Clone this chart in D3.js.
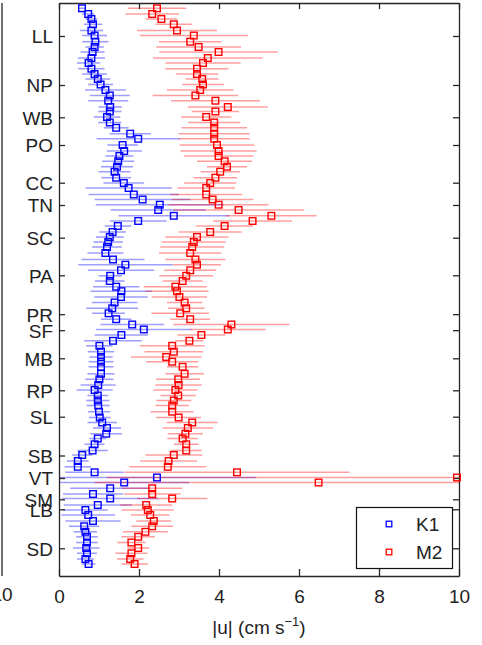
<!DOCTYPE html>
<html><head><meta charset="utf-8">
<script src="https://cdn.jsdelivr.net/npm/d3@7"></script>
<style>body{margin:0;background:#fff}svg{display:block}text{font-family:"Liberation Sans",Arial,sans-serif;fill:#222}</style>
</head><body><svg id="c" width="482" height="645"></svg>
<script>
// along-channel position of each sample (arbitrary units, top = 0)
const pos = [5.3,11,16,21.3,27.5,32.5,38.7,44,49,55,60,65.7,71,76,81.5,87,92.5,97.7,104,108.5,114,119.5,124.8,130.7,135.8,142,148,153,158.3,163.7,168.7,174.7,180,185,191.5,196.5,201.7,207,212.8,218,223,229,234,239,244,250,256.5,261.7,267.3,272.8,278,283.7,288.2,294,299.5,305.3,310.3,316.2,321.5,326.5,332,337.8,342.8,348.7,354,358.7,363.8,370.8,376.3,382,387,392.5,397.5,402.5,408.7,414.5,419.5,425,430.7,435.5,441.3,447.5,452,458,463.8,469.3,474.5,479.5,485.3,491,495.5,502,507,512,518,523.3,528.8,533.8,539.5,545,550.3,556,561];
const k1 = [0.575,0.73,0.81,0.85,0.81,0.89,0.91,0.89,0.84,0.81,0.74,0.81,0.89,0.97,1.04,1.16,1.27,1.23,1.28,1.27,1.2,1.27,1.43,1.78,1.98,1.59,1.63,1.51,1.48,1.45,1.39,1.43,1.62,1.74,1.87,2.09,2.52,2.48,2.87,1.98,1.47,1.34,1.27,1.23,1.2,1.16,1.35,1.66,1.55,1.28,1.27,1.43,1.56,1.55,1.39,1.33,1.24,1.43,1.83,2.12,1.56,1.35,1.01,1.05,1.05,1.05,1.05,1.05,1.01,0.98,0.89,0.97,0.97,0.98,1.0,1.02,1.08,1.2,1.18,0.97,0.89,0.84,0.58,0.47,0.47,0.89,2.45,1.63,1.28,0.85,1.28,0.97,0.66,0.73,0.85,0.63,0.66,0.7,0.7,0.68,0.7,0.66,0.74];
const k1Err = [0.1,0.15,0.15,0.23,0.29,0.31,0.33,0.23,0.3,0.34,0.29,0.33,0.31,0.31,0.31,0.51,0.5,0.5,0.29,0.29,0.33,0.29,0.31,0.52,1.04,0.38,0.44,0.35,0.4,0.4,0.4,0.37,0.51,1.08,1.13,1.2,1.6,1.19,1.38,0.71,0.33,0.33,0.35,0.37,0.37,0.45,0.79,1.18,0.83,0.29,0.37,0.58,0.77,0.67,0.57,0.65,0.41,0.38,0.79,1.19,0.67,0.72,0.33,0.33,0.29,0.31,0.31,0.34,0.35,0.44,0.45,0.26,0.29,0.29,0.28,0.27,0.37,0.35,0.4,0.21,0.25,0.38,0.25,0.27,0.33,0.73,2.48,1.62,1.0,0.75,1.2,0.85,0.56,0.67,0.69,0.38,0.29,0.27,0.27,0.33,0.25,0.21,0.17];
const m2 = [2.45,2.33,2.56,2.87,2.95,3.37,3.28,3.49,3.99,3.72,3.6,3.45,3.45,3.58,3.6,3.53,3.41,3.91,4.22,3.91,3.68,3.88,3.88,3.88,3.88,3.95,3.99,3.99,4.14,4.2,4.03,3.91,3.78,3.68,3.68,3.84,3.99,4.49,5.31,4.84,4.14,3.78,3.45,3.37,3.33,3.28,3.41,3.45,3.28,3.18,3.09,2.91,2.95,3.01,3.14,3.18,3.03,3.28,4.31,4.22,3.56,3.26,2.83,2.87,2.68,2.83,3.09,3.14,2.98,2.99,2.91,2.98,2.87,2.83,2.83,2.99,3.33,3.22,3.16,3.09,3.18,3.18,2.87,2.74,2.72,4.45,9.95,6.49,2.33,2.33,2.83,2.18,2.22,2.28,2.37,2.33,2.16,1.98,1.81,1.98,1.81,1.78,1.89];
const m2Err = [0.73,0.67,0.4,0.46,1.0,1.35,0.78,1.06,1.48,1.37,0.94,0.79,0.53,0.41,0.52,0.83,1.07,1.11,1.0,0.59,0.63,0.65,0.82,0.89,0.89,0.93,0.95,0.87,0.69,0.5,0.49,0.54,0.65,0.72,0.9,1.02,1.25,1.63,1.13,0.99,0.71,0.79,0.79,0.8,0.8,0.78,0.75,0.6,0.65,0.67,0.5,0.79,0.79,0.69,0.44,0.46,0.72,0.5,1.45,0.95,0.6,0.35,0.81,0.73,0.88,0.65,0.39,0.48,0.55,0.58,0.55,0.44,0.44,0.42,0.54,0.56,0.64,0.63,0.44,0.38,0.31,0.38,0.71,0.71,0.96,2.81,8.75,5.6,0.75,0.71,0.88,0.65,0.65,0.48,0.44,0.52,0.56,0.42,0.35,0.27,0.4,0.33,0.33];
const stations = ["LL","NP","WB","PO","CC","TN","SC","PA","PR","SF","MB","RP","SL","SB","VT","SM","LB","SD"];
const stationPos = [33,82,114.3,142,179.7,202,234.7,272.3,311.2,327.2,355.3,387.3,413.7,452.5,475,496.3,506.3,545.3];
const xTicks = [0,2,4,6,8,10];
const seriesNames = ["K1","M2"];

const svg = d3.select("#c");
const L=59, R=459, T=3, B=576;
const x = d3.scaleLinear().domain([0,10]).range([L,R]);
const y = d3.scaleLinear().domain([0,573]).range([T,B]);
const axisCol = "#262626";

// neighbouring panel's right edge (cut off)
svg.append("line").attr("x1",2).attr("x2",2).attr("y1",T).attr("y2",B).attr("stroke",axisCol).attr("stroke-width",1.3);
svg.append("text").attr("x",2).attr("y",601).attr("text-anchor","middle").attr("font-size",19).text("10");

svg.append("defs").append("clipPath").attr("id","clip").append("rect")
  .attr("x",L).attr("y",T).attr("width",R-L).attr("height",B-T);

const series = [
  {name:"K1", v:k1, e:k1Err, col:"#0000ff", bar:"rgba(0,0,255,0.38)"},
  {name:"M2", v:m2, e:m2Err, col:"#ff0000", bar:"rgba(255,0,0,0.38)"}
];
const gBars = svg.append("g").attr("clip-path","url(#clip)");
series.forEach(s=>{
  gBars.selectAll(null).data(pos.map((p,i)=>({p,v:s.v[i],e:s.e[i]}))).join("line")
    .attr("x1",d=>x(Math.max(0,d.v-d.e))).attr("x2",d=>x(d.v+d.e))
    .attr("y1",d=>y(d.p)).attr("y2",d=>y(d.p))
    .attr("stroke",s.bar).attr("stroke-width",1.6);
});

// axes box
const yAxL = d3.axisLeft(y).tickValues(stationPos).tickFormat((d,i)=>stations[i]).tickSizeInner(-6).tickSizeOuter(0).tickPadding(6);
const yAxR = d3.axisRight(y).tickValues(stationPos).tickFormat("").tickSizeInner(-6).tickSizeOuter(0);
const xAxB = d3.axisBottom(x).tickValues(xTicks).tickFormat(d3.format("d")).tickSizeInner(-7).tickSizeOuter(0).tickPadding(14);
const xAxT = d3.axisTop(x).tickValues(xTicks).tickFormat("").tickSizeInner(-6).tickSizeOuter(0);
function style(g){
  g.selectAll("path").attr("stroke",axisCol).attr("stroke-width",1.3);
  g.selectAll("line").attr("stroke",axisCol).attr("stroke-width",1.3);
  g.selectAll("text").attr("font-size",19).attr("fill","#222").attr("font-family",'"Liberation Sans",Arial,sans-serif');
}
svg.append("g").attr("transform",`translate(${L},0)`).call(yAxL).call(style).call(g=>g.selectAll("text").attr("dy","0.36em"));
svg.append("g").attr("transform",`translate(${R},0)`).call(yAxR).call(style);
svg.append("g").attr("transform",`translate(0,${B})`).call(xAxB).call(style);
svg.append("g").attr("transform",`translate(0,${T})`).call(xAxT).call(style);

// markers
const ms = 6.6;
series.forEach(s=>{
  svg.append("g").selectAll(null).data(pos.map((p,i)=>({p,v:s.v[i]}))).join("rect")
    .attr("x",d=>x(d.v)-ms/2).attr("y",d=>y(d.p)-ms/2).attr("width",ms).attr("height",ms)
    .attr("fill","none").attr("stroke",s.col).attr("stroke-width",1.4);
});

// x label
const xl = svg.append("text").attr("x",(L+R)/2).attr("y",634).attr("text-anchor","middle").attr("font-size",19);
xl.append("tspan").text("|u| (cm s");
xl.append("tspan").attr("font-size",13).attr("dy",-8).text("\u22121");
xl.append("tspan").attr("dy",8).text(")");

// legend
const lg = svg.append("g");
lg.append("rect").attr("x",356.5).attr("y",507.5).attr("width",96).attr("height",61).attr("fill","#fff").attr("stroke","#111").attr("stroke-width",1.2);
series.forEach((s,i)=>{
  const cy = 524 + i*28;
  lg.append("rect").attr("x",389-2.8).attr("y",cy-2.8).attr("width",5.6).attr("height",5.6).attr("fill","none").attr("stroke",s.col).attr("stroke-width",1.3);
  lg.append("text").attr("x",416).attr("y",cy+7).attr("font-size",19).text(seriesNames[i]);
});
</script></body></html>
